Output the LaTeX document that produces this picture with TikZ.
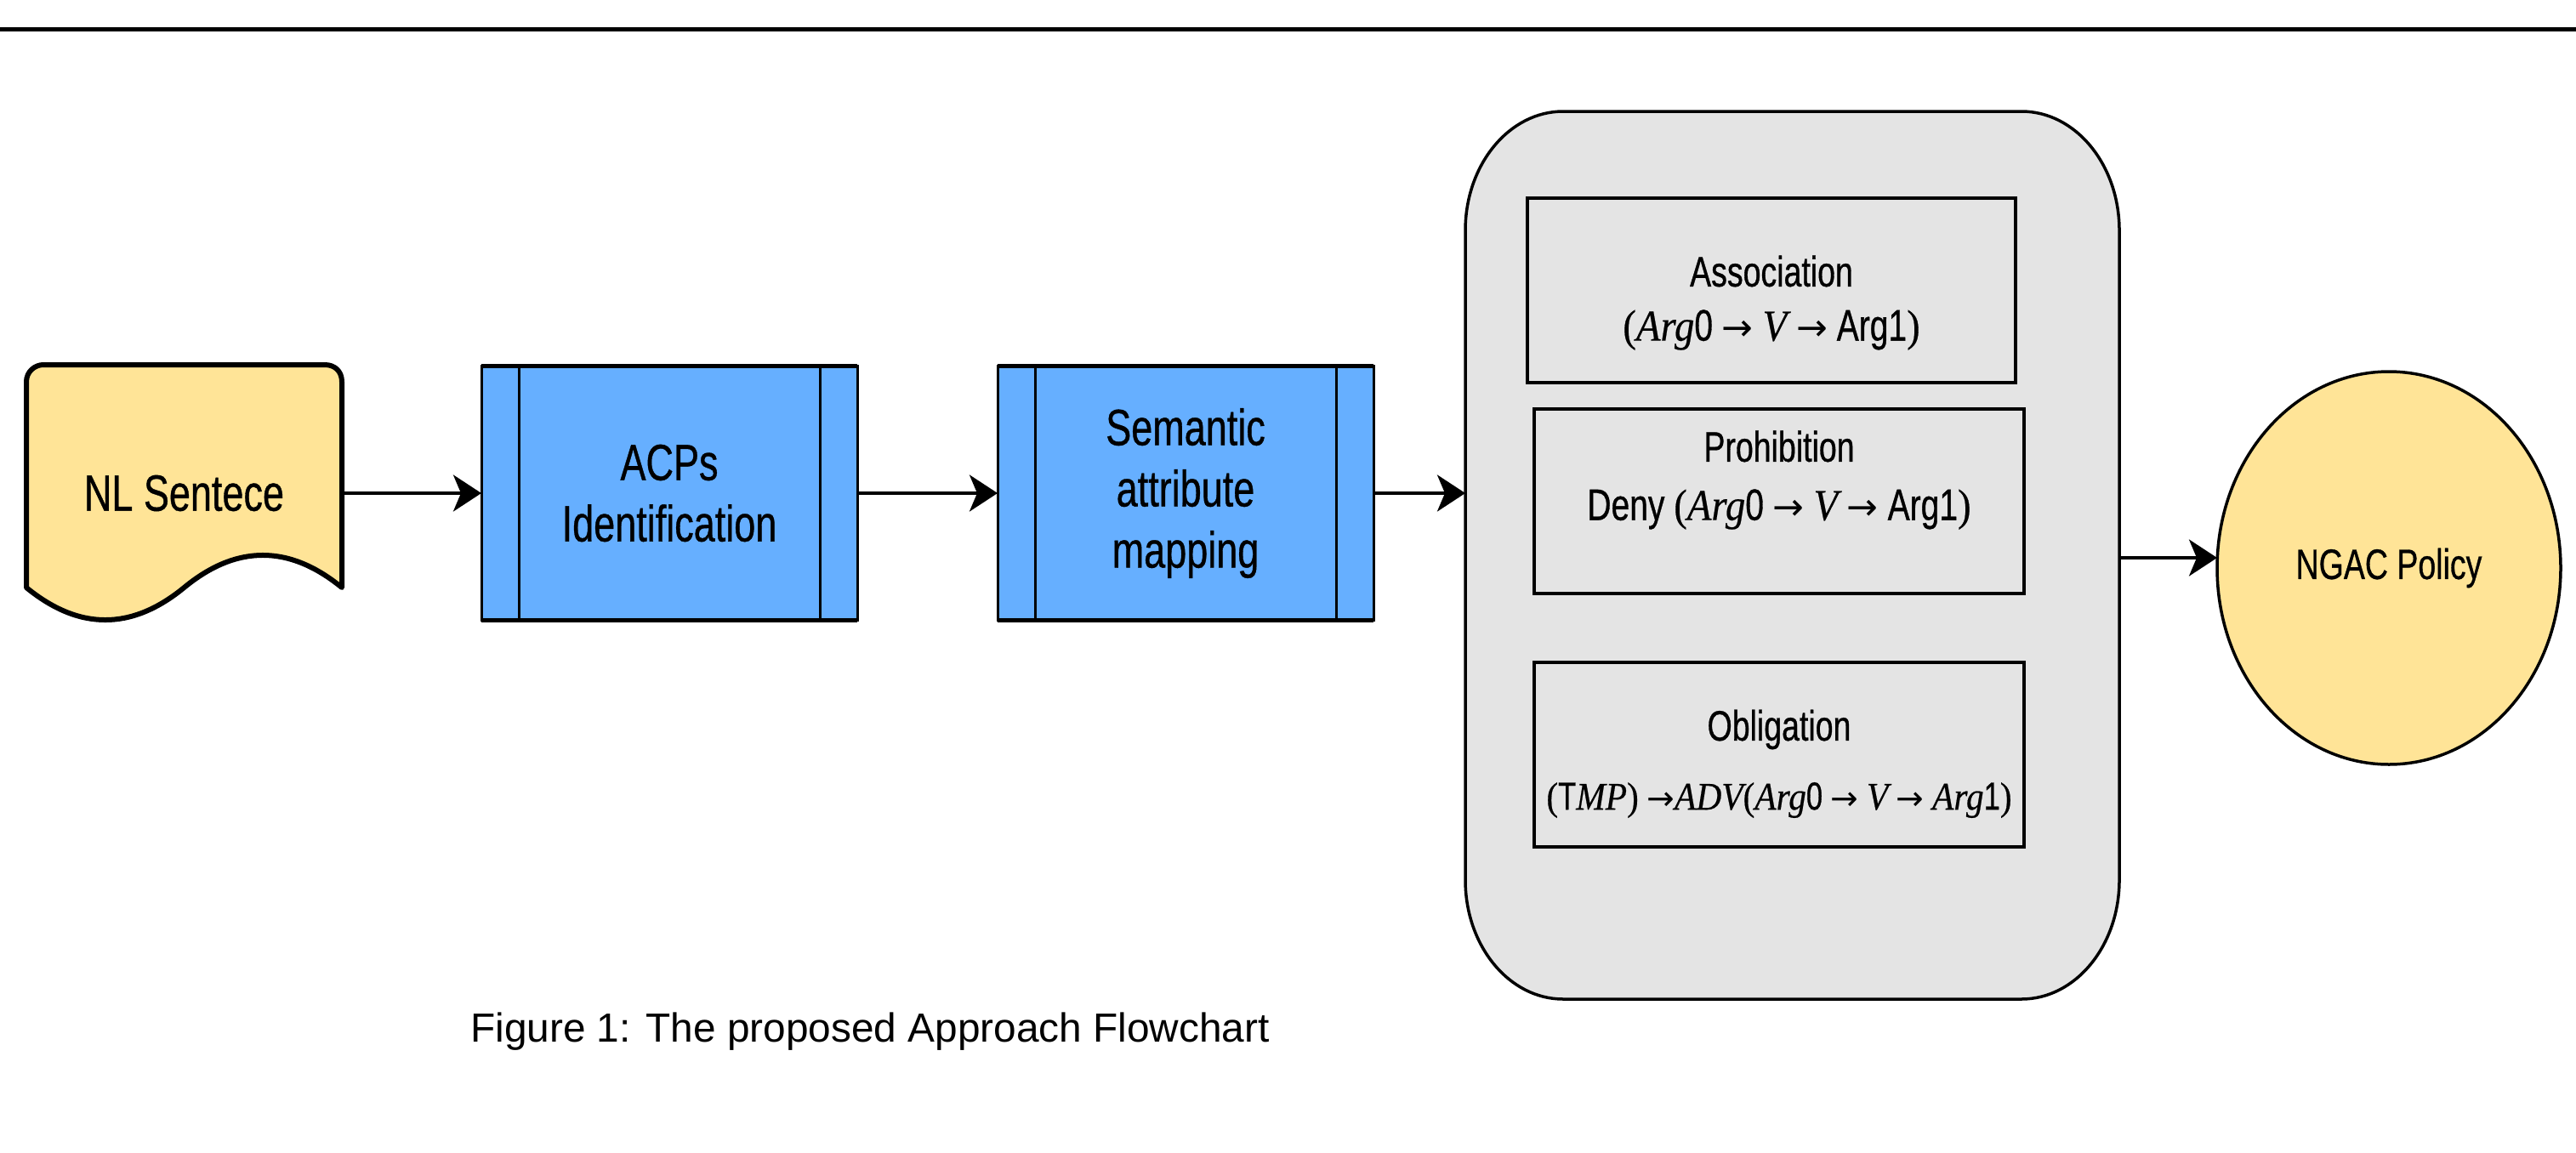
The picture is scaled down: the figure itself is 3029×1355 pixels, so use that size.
\documentclass[tikz,border=0pt]{standalone}
\usepackage{fontspec}
\setmainfont{Liberation Sans}
\newfontfamily\dsans[FakeStretch=0.75,FakeBold=0.6]{Liberation Sans}
\newfontfamily\dserif[FakeStretch=0.9,FakeBold=0.4]{Liberation Serif}
\newfontfamily\arrfont{DejaVu Sans}
\usetikzlibrary{arrows.meta,shapes.geometric,calc}

\definecolor{docyellow}{HTML}{FFE497}
\definecolor{procblue}{HTML}{66AFFF}
\definecolor{panelgray}{HTML}{E4E4E4}

% pieces of the rule formulas
\newcommand{\va}[1]{{\dserif\itshape #1}}
\newcommand{\rarr}{{\arrfont\fontsize{44pt}{44pt}\selectfont →}}
\newcommand{\rarrs}{{\arrfont\fontsize{39pt}{39pt}\selectfont →}}
\newcommand{\lp}{{\dserif (}}
\newcommand{\rp}{{\dserif )}}

\begin{document}
\begin{tikzpicture}[x=1pt,y=-1pt,
  arr/.style={line width=4pt,-{Stealth[length=33pt,width=43pt,inset=9pt]}},
  procbox/.style={rectangle,fill=procblue,draw=black,line width=3pt,
    minimum width=442pt,minimum height=299pt,inner sep=0pt,outer sep=0pt,
    align=center,font=\dsans\fontsize{60pt}{72pt}\selectfont},
  rulebox/.style={rectangle,draw=black,line width=4pt,
    minimum height=217pt,inner sep=0pt,outer sep=0pt},
  ruletext/.style={inner sep=0pt,outer sep=0pt,font=\dsans\fontsize{50pt}{56pt}\selectfont},
  formula/.style={inner sep=0pt,outer sep=0pt,font=\dsans\fontsize{52pt}{58pt}\selectfont}
]
\useasboundingbox (0,0) rectangle (3029,1355);
\fill[white] (0,0) rectangle (3029,1355);

% rule across the top
\draw[line width=5pt] (0,34) -- (3029,34);

% document shape for the input sentence
\draw[fill=docyellow,line width=6pt,line join=round]
  (31,691) -- (31,449) .. controls (31,437) and (41,429) .. (51,429)
  -- (382,429) .. controls (394,429) and (402,437) .. (402,449)
  -- (402,691) .. controls (340,640.3) and (278,640.3) .. (216.5,691)
  .. controls (154.7,741.7) and (93,741.7) .. (31,691) -- cycle;
\node[inner sep=0pt,outer sep=0pt,minimum width=371pt,
  font=\dsans\fontsize{60pt}{64pt}\selectfont] (doc) at (216.5,580) {NL Sentece};

% predefined process boxes
\node[procbox] (acp) at (787,580) {ACPs\\Identification};
\node[procbox] (sem) at (1394,580) {Semantic\\attribute\\mapping};
\foreach \b in {acp,sem}{
  \draw[line width=5pt] (\b.north west) -- (\b.north east);
  \draw[line width=5pt] (\b.south west) -- (\b.south east);
  \draw[line width=3pt] ([xshift=44pt]\b.north west) -- ([xshift=44pt]\b.south west);
  \draw[line width=3pt] ([xshift=-44pt]\b.north east) -- ([xshift=-44pt]\b.south east);
}

% container of the three policy types
\node[inner sep=0pt,outer sep=0pt,minimum width=769pt,minimum height=1044pt] (cont) at (2107.5,653) {};
\draw[fill=panelgray,line width=3.5pt]
  (1838,131) -- (2377,131) .. controls (2440.5,131) and (2492,193.7) .. (2492,271)
  -- (2492,1035) .. controls (2492,1112.3) and (2440.5,1175) .. (2377,1175)
  -- (1838,1175) .. controls (1774.5,1175) and (1723,1112.3) .. (1723,1035)
  -- (1723,271) .. controls (1723,193.7) and (1774.5,131) .. (1838,131) -- cycle;

\node[rulebox,minimum width=574pt] (assoc) at (2083,341) {};
\node[rulebox,minimum width=576pt] (prohib) at (2092,589) {};
\node[rulebox,minimum width=576pt] (oblig) at (2092,887) {};

\node[ruletext] (assoct) at (2083,319) {Association};
\node[formula] (assocf) at (2083,388)
  {\lp\va{Arg}0 \rarr{} \va{V} \rarr{} Arg1\rp};
\node[ruletext] (prohibt) at (2092,525) {Prohibition};
\node[formula] (prohibf) at (2092,599)
  {Deny \lp\va{Arg}0 \rarr{} \va{V} \rarr{} Arg1\rp};
\node[ruletext] (obligt) at (2092,858) {Obligation};
\node[formula,font=\dsans\fontsize{46pt}{52pt}\selectfont] (obligf) at (2092,941)
  {\lp T\va{MP}\rp{} \rarrs\va{ADV}\lp\va{Arg}0 \rarrs{} \va{V} \rarrs{} \va{Arg}1\rp};

% resulting policy
\node[ellipse,fill=docyellow,draw=black,line width=3.5pt,inner sep=0pt,outer sep=0pt,
  minimum width=404pt,minimum height=462pt,
  font=\dsans\fontsize{50pt}{56pt}\selectfont] (pol) at (2809,668) {NGAC Policy};
\coordinate (polin) at ([yshift=12pt]pol.west);

% flow
\draw[arr] (doc.east) -- (acp.west);
\draw[arr] (acp.east) -- (sem.west);
\draw[arr] (sem.east) -- (sem.east -| cont.west);
\draw[arr] (cont.east |- polin) -- (polin);

% caption
\node[anchor=base west,inner sep=0pt,font=\fontsize{47.8pt}{57pt}\selectfont] (cap)
  at (553,1225) {Figure 1: The proposed Approach Flowchart};
\end{tikzpicture}
\end{document}
